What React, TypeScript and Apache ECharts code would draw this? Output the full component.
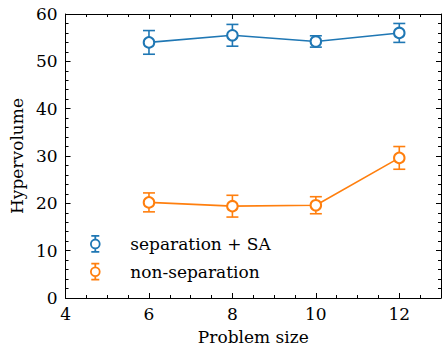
import React, { useEffect, useRef } from "react";
import * as echarts from "echarts";

const problemSizes = [6, 8, 10, 12];
const sepMeans = [54.0, 55.5, 54.2, 56.0];
const sepErrs = [2.5, 2.3, 1.2, 2.0];
const nonSepMeans = [20.2, 19.4, 19.6, 29.6];
const nonSepErrs = [2.0, 2.3, 1.8, 2.4];
const seriesNames = ["separation + SA", "non-separation"];
const colors = ["#1f77b4", "#ff7f0e"];

const FONT = "'DejaVu Serif', 'Liberation Serif', serif";
const FS = 17;

const legendIcon =
  "path://M0.6 8 A4.4 4.4 0 1 0 9.4 8 A4.4 4.4 0 1 0 0.6 8 Z M5 0 L5 3.6 M5 12.4 L5 16 M1 0 L9 0 M1 16 L9 16";

function errData(means: number[], errs: number[]) {
  return problemSizes.map((x, i) => [x, means[i] - errs[i], means[i] + errs[i]]);
}

function errSeries(name: string, means: number[], errs: number[], color: string) {
  return {
    type: "custom",
    name,
    z: 2,
    xAxisIndex: 0,
    yAxisIndex: 0,
    encode: { x: 0, y: [1, 2] },
    data: errData(means, errs),
    renderItem: (params: any, api: any) => {
      const x = api.value(0);
      const lo = api.value(1);
      const hi = api.value(2);
      const top = api.coord([x, hi]);
      const bot = api.coord([x, lo]);
      const hw = 6;
      const style = { stroke: color, lineWidth: 1.6, fill: "none" };
      return {
        type: "group",
        children: [
          { type: "line", shape: { x1: top[0], y1: top[1], x2: bot[0], y2: bot[1] }, style },
          { type: "line", shape: { x1: top[0] - hw, y1: top[1], x2: top[0] + hw, y2: top[1] }, style },
          { type: "line", shape: { x1: bot[0] - hw, y1: bot[1], x2: bot[0] + hw, y2: bot[1] }, style },
        ],
      };
    },
  };
}

function lineSeries(name: string, means: number[], color: string) {
  return {
    type: "line",
    name,
    z: 3,
    xAxisIndex: 0,
    yAxisIndex: 0,
    data: problemSizes.map((x, i) => [x, means[i]]),
    symbol: "emptyCircle",
    symbolSize: 10.5,
    lineStyle: { color, width: 1.6 },
    itemStyle: { color, borderColor: color, borderWidth: 1.6 },
  };
}

const axisLineStyle = { color: "#000", width: 1 };

function xAxisDef(position: string, interval: number, tickLen: number, major: boolean, showLine: boolean, showLabel: boolean) {
  return {
    type: "value",
    position,
    min: 4,
    max: 13,
    interval,
    axisLine: { show: showLine, onZero: false, lineStyle: axisLineStyle },
    axisTick: { show: true, inside: true, length: tickLen, lineStyle: axisLineStyle },
    axisLabel: {
      show: showLabel,
      color: "#000",
      fontFamily: FONT,
      fontSize: FS,
      margin: 7,
      formatter: (v: number) => (v === 13 ? "" : String(v)),
    },
    splitLine: { show: false },
    name: major && showLabel ? "Problem size" : "",
    nameLocation: "middle",
    nameGap: 30,
    nameTextStyle: { color: "#000", fontFamily: FONT, fontSize: FS },
  };
}

function yAxisDef(position: string, interval: number, tickLen: number, major: boolean, showLine: boolean, showLabel: boolean) {
  return {
    type: "value",
    position,
    min: 0,
    max: 60,
    interval,
    axisLine: { show: showLine, onZero: false, lineStyle: axisLineStyle },
    axisTick: { show: true, inside: true, length: tickLen, lineStyle: axisLineStyle },
    axisLabel: { show: showLabel, color: "#000", fontFamily: FONT, fontSize: FS, margin: 8 },
    splitLine: { show: false },
    name: major && showLabel ? "Hypervolume" : "",
    nameLocation: "middle",
    nameGap: 40,
    nameTextStyle: { color: "#000", fontFamily: FONT, fontSize: FS },
  };
}

export default function App() {
  const ref = useRef<HTMLDivElement>(null);
  useEffect(() => {
    document.body.style.margin = "0";
    const chart = echarts.init(ref.current!, null, { renderer: "svg" });
    chart.setOption({
      animation: false,
      backgroundColor: "#fff",
      grid: { left: 58, top: 14, right: 7, bottom: 57, containLabel: false },
      legend: {
        orient: "vertical",
        left: 85,
        top: 230,
        padding: 5,
        itemWidth: 10,
        itemHeight: 16,
        itemGap: 10,
        icon: legendIcon,
        textStyle: { color: "#000", fontFamily: FONT, fontSize: FS, lineHeight: 16, padding: [0, 0, 0, 25] },
        data: seriesNames.map((n, i) => ({
          name: n,
          itemStyle: { color: "#fff", borderColor: colors[i], borderWidth: 1.8 },
        })),
      },
      xAxis: [
        xAxisDef("bottom", 2, 5, true, true, true),
        xAxisDef("bottom", 0.5, 3, false, false, false),
        xAxisDef("top", 2, 5, false, true, false),
        xAxisDef("top", 0.5, 3, false, false, false),
      ],
      yAxis: [
        yAxisDef("left", 10, 5, true, true, true),
        yAxisDef("left", 2, 3, false, false, false),
        yAxisDef("right", 10, 5, false, true, false),
        yAxisDef("right", 2, 3, false, false, false),
      ],
      series: [
        errSeries("err-sep", sepMeans, sepErrs, colors[0]),
        errSeries("err-nonsep", nonSepMeans, nonSepErrs, colors[1]),
        lineSeries(seriesNames[0], sepMeans, colors[0]),
        lineSeries(seriesNames[1], nonSepMeans, colors[1]),
      ],
    });
    return () => chart.dispose();
  }, []);
  return <div ref={ref} style={{ width: 448, height: 355 }} />;
}
